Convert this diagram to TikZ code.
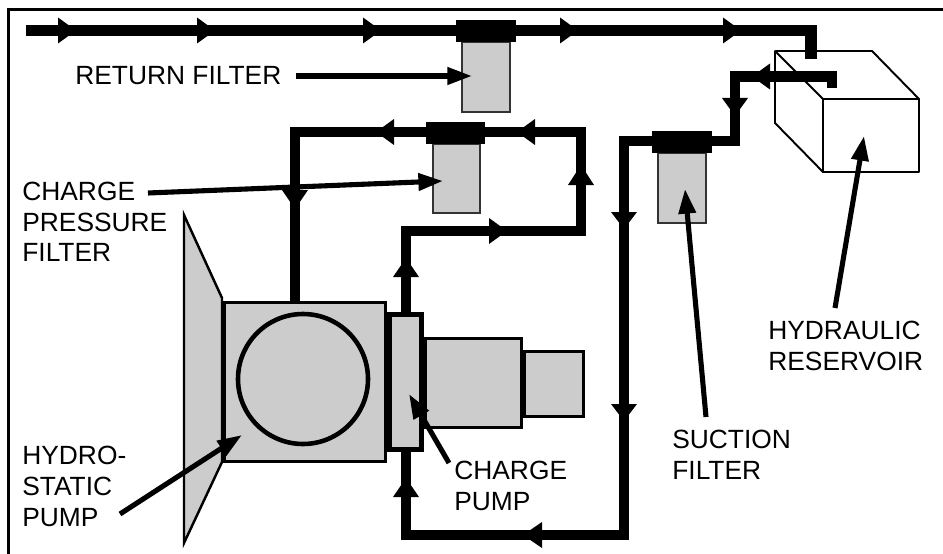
\documentclass[tikz,border=0pt]{standalone}
\usepackage{fontspec}
\setmainfont{Liberation Sans}
\usepackage{xcolor}
\usetikzlibrary{arrows.meta,positioning}
\definecolor{housinggray}{HTML}{CCCCCC}
\tikzset{
    pipe/.style={line width=5.9pt, miter limit=10},
    housing/.style={fill=housinggray, draw=black, line width=1.7pt},
    filterbody/.style={fill=housinggray, draw=black!80, line width=0.6pt},
    tankline/.style={draw=black, line width=1.1pt, line join=round},
    pointer/.style={line width=2.9pt, -{Triangle[length=14pt, width=9.5pt]}},
    callout/.style={inner sep=0pt, anchor=north west, align=left, font=\fontsize{15}{17.5}\selectfont},
}
\begin{document}
\begin{tikzpicture}[x=0.02cm, y=-0.02cm]
    \useasboundingbox (0,0) rectangle (943,554);

    % Outer frame (left and top only)
    \draw[line width=1.7pt] (8.7,554) -- (8.7,9.5) -- (943,9.5);

    % Reservoir
    \draw[tankline] (775,51) -- (872,51) -- (919,99) -- (919,172) -- (823,172) -- (775,123) -- cycle;
    \draw[tankline] (775,51) -- (823,99) -- (919,99);
    \draw[tankline] (823,99) -- (823,172);

    % Hydrostatic pump
    \draw[housing, line width=1.4pt, line join=miter] (184,215) -- (222,298) -- (222,462) -- (184,543) -- cycle;
    \draw[housing] (224.5,302.5) rectangle (385.5,461.5);
    \draw[line width=2.6pt] (303,379) circle (65);

    % Charge pump and shaft end
    \draw[housing] (425.5,338.5) rectangle (521.5,427.5);
    \draw[housing] (524.5,351.5) rectangle (583.5,416.5);
    \draw[housing, line width=2.8pt] (389.5,314.5) rectangle (421.5,449.5);

    % Filters
    \draw[filterbody] (462,42) rectangle (510,112);
    \draw[filterbody] (433,144) rectangle (480,213);
    \draw[filterbody] (658,153) rectangle (706,223);

    % Pipe runs
    \draw[pipe, line width=6.3pt] (26,30.5) -- (811,30.5) -- (811,59);
    \draw[pipe] (295,301) -- (295,132) -- (581,132) -- (581,231) -- (406,231) -- (406,312);
    \draw[pipe] (406,452) -- (406,535) -- (624,535) -- (624,141) -- (735,141) -- (735,76.5) -- (832,76.5) -- (832,88);

    % Filter heads
    \fill (456,20) rectangle (516,42);
    \fill (426,122) rectangle (485,144);
    \fill (652,131) rectangle (712,153);

    % Flow arrows
    \foreach \x in {58,197,363,560,723}
        \fill (\x,17.5) -- (\x+18,30.5) -- (\x,43.5) -- cycle;
    \foreach \x in {394,535}
        \fill (\x,119) -- (\x-18,132) -- (\x,145) -- cycle;
    \fill (770,63.5) -- (752,76.5) -- (770,89.5) -- cycle;
    \fill (489,218) -- (507,231) -- (489,244) -- cycle;
    \fill (542,522) -- (523,535) -- (542,548) -- cycle;
    \foreach \y in {277,497}
        \fill (393,\y) -- (406,\y-19) -- (419,\y) -- cycle;
    \fill (568,185) -- (581,165) -- (594,185) -- cycle;
    \fill (282,190) -- (295,209) -- (308,190) -- cycle;
    \fill (722,98) -- (735,116) -- (748,98) -- cycle;
    \foreach \y in {212,404}
        \fill (611,\y) -- (624,\y+17) -- (637,\y) -- cycle;

    % Labels
    \node[callout] (returnlabel) at (75,66) {RETURN FILTER};
    \node[callout] (chargelabel) at (22,181.5) {CHARGE\\PRESSURE\\FILTER};
    \node[callout] (hydrolabel) at (22,446) {HYDRO-\\STATIC\\PUMP};
    \node[callout] (pumplabel) at (454,460.5) {CHARGE\\PUMP};
    \node[callout] (suctionlabel) at (672,430) {SUCTION\\FILTER};
    \node[callout] (tanklabel) at (768,321) {HYDRAULIC\\RESERVOIR};

    % Pointers, tail then tip
    \coordinate (returntail) at (296,76);
    \coordinate (returntip) at (472,76);
    \coordinate (chargetail) at (148,193);
    \coordinate (chargetip) at (443,181);
    \coordinate (hydrotail) at (120,514);
    \coordinate (hydrotip) at (242,435);
    \coordinate (pumptail) at (449,463);
    \coordinate (pumptip) at (409,394);
    \coordinate (suctiontail) at (706,417);
    \coordinate (suctiontip) at (685,189);
    \coordinate (tanktail) at (835,308);
    \coordinate (tanktip) at (864,136);
    \foreach \name in {return,charge,hydro,pump,suction,tank}
        \draw[pointer] (\name tail) -- (\name tip);
\end{tikzpicture}
\end{document}
